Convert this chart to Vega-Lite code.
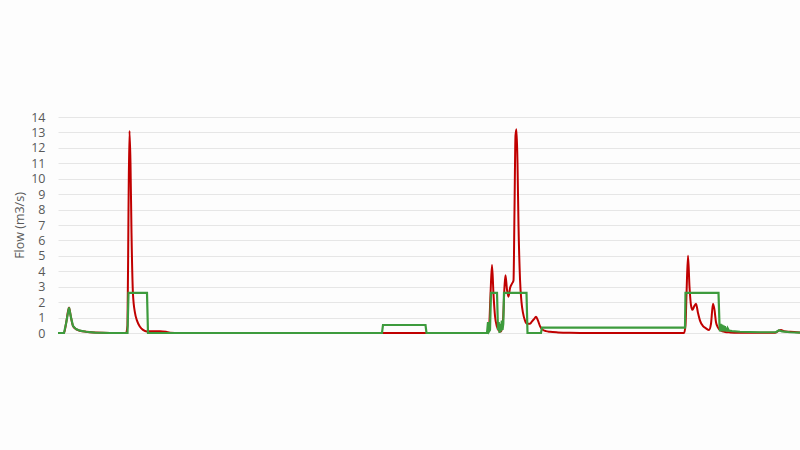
{
  "$schema": "https://vega.github.io/schema/vega-lite/v6.json",
  "autosize": "none",
  "width": 742,
  "height": 216,
  "padding": {"left": 58, "top": 117, "right": 0, "bottom": 117},
  "background": "#fdfdfd",
  "config": {"view": {"stroke": null}},
  "datasets": {
    "red": [
      {"t": 0, "flow": 0}, {"t": 6, "flow": 0}, {"t": 8, "flow": 0.6}, {"t": 11, "flow": 1.65}, {"t": 13, "flow": 1.0}, {"t": 15, "flow": 0.45}, {"t": 18, "flow": 0.25}, {"t": 22, "flow": 0.15}, {"t": 28, "flow": 0.08}, {"t": 37, "flow": 0.03}, {"t": 52, "flow": 0}, {"t": 68, "flow": 0},
      {"t": 69.5, "flow": 0.5}, {"t": 70.5, "flow": 8}, {"t": 71.5, "flow": 13.1}, {"t": 72.5, "flow": 11}, {"t": 73.5, "flow": 6.5}, {"t": 75, "flow": 2.5}, {"t": 77, "flow": 1.3}, {"t": 79, "flow": 0.8}, {"t": 82, "flow": 0.4}, {"t": 85, "flow": 0.2}, {"t": 89, "flow": 0.1}, {"t": 94, "flow": 0.12}, {"t": 102, "flow": 0.12}, {"t": 108, "flow": 0.08}, {"t": 112, "flow": 0.02}, {"t": 122, "flow": 0},
      {"t": 429, "flow": 0}, {"t": 431, "flow": 0.3}, {"t": 432.5, "flow": 2.5}, {"t": 434, "flow": 4.4}, {"t": 435.5, "flow": 2.5}, {"t": 437, "flow": 1.1}, {"t": 439, "flow": 0.4}, {"t": 441, "flow": 0.15}, {"t": 443, "flow": 0.1}, {"t": 445, "flow": 0.8}, {"t": 446.5, "flow": 3.0}, {"t": 447.5, "flow": 3.75}, {"t": 449, "flow": 2.8}, {"t": 450.5, "flow": 2.35}, {"t": 452, "flow": 2.9}, {"t": 454, "flow": 3.2}, {"t": 455.5, "flow": 3.4}, {"t": 456.5, "flow": 8}, {"t": 457.5, "flow": 12.8}, {"t": 458.5, "flow": 13.2}, {"t": 459.5, "flow": 11}, {"t": 460.5, "flow": 7}, {"t": 462, "flow": 3.5}, {"t": 463.5, "flow": 2.0}, {"t": 465, "flow": 1.3}, {"t": 467, "flow": 0.8}, {"t": 469, "flow": 0.6}, {"t": 472, "flow": 0.6}, {"t": 474, "flow": 0.75}, {"t": 476, "flow": 0.9}, {"t": 478, "flow": 1.05}, {"t": 480, "flow": 0.8}, {"t": 482, "flow": 0.45}, {"t": 484, "flow": 0.25}, {"t": 488, "flow": 0.12}, {"t": 492, "flow": 0.08}, {"t": 500, "flow": 0.04}, {"t": 512, "flow": 0.01}, {"t": 522, "flow": 0},
      {"t": 626, "flow": 0}, {"t": 627.5, "flow": 0.5}, {"t": 628.5, "flow": 2.5}, {"t": 630, "flow": 5.0}, {"t": 631.5, "flow": 3.0}, {"t": 633, "flow": 1.8}, {"t": 634.5, "flow": 1.5}, {"t": 636, "flow": 1.7}, {"t": 638, "flow": 1.9}, {"t": 640, "flow": 1.3}, {"t": 642, "flow": 0.8}, {"t": 645, "flow": 0.45}, {"t": 648, "flow": 0.3}, {"t": 651, "flow": 0.2}, {"t": 653, "flow": 0.6}, {"t": 655, "flow": 1.9}, {"t": 656.5, "flow": 1.5}, {"t": 658, "flow": 0.7}, {"t": 660, "flow": 0.35}, {"t": 663, "flow": 0.15}, {"t": 667, "flow": 0.07}, {"t": 672, "flow": 0.04}, {"t": 682, "flow": 0.02}, {"t": 702, "flow": 0.01}, {"t": 717, "flow": 0.01}, {"t": 720, "flow": 0.12}, {"t": 723, "flow": 0.2}, {"t": 726, "flow": 0.12}, {"t": 732, "flow": 0.08}, {"t": 742, "flow": 0.04}
    ],
    "green": [
      {"t": 0, "flow": 0}, {"t": 6, "flow": 0}, {"t": 8, "flow": 0.6}, {"t": 11, "flow": 1.66}, {"t": 13, "flow": 1.0}, {"t": 15, "flow": 0.45}, {"t": 18, "flow": 0.25}, {"t": 22, "flow": 0.15}, {"t": 28, "flow": 0.08}, {"t": 37, "flow": 0.03}, {"t": 52, "flow": 0},
      {"t": 69.5, "flow": 0}, {"t": 70.5, "flow": 2.6}, {"t": 89, "flow": 2.6}, {"t": 90, "flow": 0},
      {"t": 324, "flow": 0}, {"t": 325, "flow": 0.52}, {"t": 367.5, "flow": 0.52}, {"t": 368.5, "flow": 0},
      {"t": 429, "flow": 0}, {"t": 430, "flow": 0.7}, {"t": 431, "flow": 0.1}, {"t": 432, "flow": 0.2}, {"t": 433, "flow": 2.6}, {"t": 439, "flow": 2.6}, {"t": 440, "flow": 0.2}, {"t": 440.7, "flow": 0.7}, {"t": 441.5, "flow": 0}, {"t": 442.3, "flow": 0.6}, {"t": 443, "flow": 0.1}, {"t": 443.8, "flow": 0.8}, {"t": 444.5, "flow": 0.2}, {"t": 445.3, "flow": 0.6}, {"t": 446, "flow": 2.6}, {"t": 468.5, "flow": 2.6}, {"t": 469.5, "flow": 0},
      {"t": 483, "flow": 0}, {"t": 484, "flow": 0.35}, {"t": 627, "flow": 0.35}, {"t": 627.5, "flow": 2.6}, {"t": 660.5, "flow": 2.6}, {"t": 661.5, "flow": 0.5}, {"t": 662, "flow": 0.1}, {"t": 662.7, "flow": 0.6}, {"t": 663.4, "flow": 0.1}, {"t": 664.1, "flow": 0.55}, {"t": 664.8, "flow": 0.1}, {"t": 665.5, "flow": 0.5}, {"t": 666.2, "flow": 0.1}, {"t": 666.9, "flow": 0.45}, {"t": 667.6, "flow": 0.1}, {"t": 668.3, "flow": 0.35}, {"t": 669, "flow": 0.1}, {"t": 669.7, "flow": 0.3}, {"t": 671, "flow": 0.15}, {"t": 674, "flow": 0.12}, {"t": 682, "flow": 0.08}, {"t": 702, "flow": 0.05}, {"t": 718, "flow": 0.05}, {"t": 721, "flow": 0.18}, {"t": 724, "flow": 0.1}, {"t": 732, "flow": 0.05}, {"t": 742, "flow": 0.03}
    ]
  },
  "encoding": {
    "x": {"field": "t", "type": "quantitative", "scale": {"domain": [0, 742], "nice": false, "zero": false}, "axis": null},
    "y": {
      "field": "flow", "type": "quantitative",
      "scale": {"domain": [0, 14], "nice": false},
      "axis": {
        "title": "Flow (m3/s)", "values": [0,1,2,3,4,5,6,7,8,9,10,11,12,13,14],
        "domain": false, "ticks": false, "labelPadding": 13,
        "labelFont": "Open Sans", "labelFontSize": 12.5, "labelColor": "#595959",
        "titleFont": "Open Sans", "titleFontSize": 12.5, "titleFontWeight": "normal", "titleColor": "#595959", "titlePadding": 4,
        "gridColor": "#e6e6e6", "gridWidth": 1
      }
    }
  },
  "layer": [
    {"data": {"name": "red"}, "mark": {"type": "line", "color": "#c00000", "strokeWidth": 2, "interpolate": "monotone"}},
    {"data": {"name": "green"}, "mark": {"type": "line", "color": "#3d9b3d", "strokeWidth": 2.2}}
  ]
}
